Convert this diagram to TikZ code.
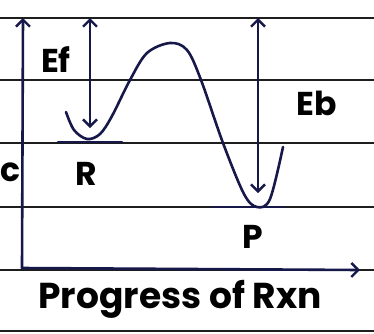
\documentclass[tikz,border=0pt]{standalone}
\usepackage{fontspec}
\setmainfont{Poppins}
\usetikzlibrary{arrows.meta}
\definecolor{ink}{HTML}{16184A}
\definecolor{rule}{HTML}{1E1E1E}
\tikzset{
  ruled/.style={draw=rule, line width=1.6pt},
  inkline/.style={draw=ink, line width=2.6pt, line cap=round, line join=round},
  barb/.style={inkline, arrows={-Straight Barb[length=7pt,width=14pt,line width=2.4pt]}},
  dbarb/.style={inkline, arrows={Straight Barb[length=7pt,width=14pt,line width=2.4pt]-Straight Barb[length=7pt,width=14pt,line width=2.4pt]}},
  lbl/.style={text=black, inner sep=0pt, font=\fontsize{33}{33}\selectfont\bfseries},
}
\begin{document}
\begin{tikzpicture}[x=1pt,y=-1pt]
\useasboundingbox[fill=white] (0,0) rectangle (374,333);
% ruled paper lines
\foreach \yy in {18,80,143,207,270,331}
  \draw[ruled] (0,\yy) -- (374,\yy);
% axes
\coordinate (origin) at (22,268);
\coordinate (ytop) at (23,18);
\coordinate (xend) at (360,270);
\draw[barb] (origin) -- (ytop);
\draw[barb] (origin) -- (xend);
% level lines
\coordinate (rl) at (58,142);
\coordinate (rr) at (122,142);
\coordinate (pl) at (212,207);
\coordinate (pr) at (284,207);
\draw[inkline, line width=2.2pt] (rl) -- (rr);
\draw[inkline, line width=2.2pt] (pl) -- (pr);
% energy curve
\draw[inkline] plot[smooth, tension=0.55] coordinates {
 (66,112) (74,130) (87,139) (100,134) (112,116) (130,80) (147,53) (170,43)
 (187,50) (201,80) (223,143) (244,194) (257,207) (270,199) (283,147)};
% Ef and Eb arrows
\coordinate (eft) at (90,18);
\coordinate (efb) at (90,128);
\coordinate (ebt) at (258,18);
\coordinate (ebb) at (258,193);
\draw[dbarb] (eft) -- (efb);
\draw[dbarb] (ebt) -- (ebb);
% labels
\node[lbl] (ef) at (56,60) {Ef};
\node[lbl] (eb) at (317,103) {Eb};
\node[lbl] (r) at (86,174) {R};
\node[lbl] (p) at (253,237) {P};
\node[lbl, anchor=west] (c) at (0,172) {c};
\node[lbl, font=\fontsize{36}{36}\selectfont\bfseries] (prog) at (180,299) {Progress of Rxn};
\end{tikzpicture}
\end{document}
